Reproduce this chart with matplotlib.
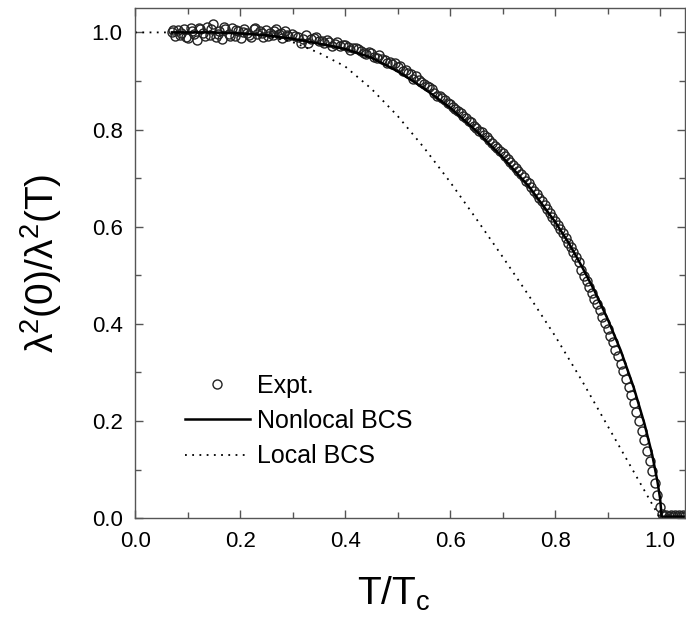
import numpy as np
import matplotlib
matplotlib.use('Agg')
import matplotlib.pyplot as plt
from matplotlib.ticker import MultipleLocator

plt.rcParams['font.family'] = ['Liberation Sans', 'DejaVu Sans']
plt.rcParams['mathtext.default'] = 'regular'

low_t = [0.070, 0.073, 0.076, 0.082, 0.085, 0.088, 0.094, 0.097, 0.100, 0.106,
         0.109, 0.112, 0.118, 0.121, 0.124, 0.130, 0.133, 0.136, 0.142, 0.145,
         0.148, 0.154, 0.157, 0.160, 0.166, 0.169, 0.172, 0.178, 0.181, 0.184,
         0.190, 0.193, 0.196, 0.202, 0.205, 0.208, 0.214, 0.217, 0.220, 0.226,
         0.229, 0.232, 0.238, 0.241, 0.244, 0.250, 0.253, 0.256, 0.262, 0.265,
         0.268, 0.274, 0.277, 0.280, 0.286, 0.289, 0.292, 0.298]
low_y = [1.000, 1.005, 0.992, 1.004, 0.995, 0.998, 1.008, 0.991, 0.988, 1.010,
         1.003, 0.996, 0.985, 1.009, 1.006, 0.999, 0.993, 1.012, 0.994, 1.006,
         1.018, 0.990, 0.997, 1.003, 0.986, 1.012, 1.008, 0.997, 0.992, 1.009,
         0.993, 1.005, 1.002, 0.988, 1.000, 1.006, 0.999, 0.994, 0.991, 1.007,
         1.009, 0.996, 1.003, 0.998, 0.990, 1.004, 0.993, 0.998, 0.994, 1.003,
         1.007, 0.996, 0.999, 0.989, 1.002, 0.995, 0.993, 0.997]

# mid range, just above the nonlocal curve
mid_t = [0.305, 0.310, 0.315, 0.320, 0.325, 0.330, 0.335, 0.340, 0.345, 0.350,
         0.355, 0.360, 0.365, 0.370, 0.375, 0.380, 0.385, 0.390, 0.395, 0.400,
         0.405, 0.410, 0.415, 0.420, 0.425, 0.430, 0.435, 0.440, 0.445, 0.450,
         0.455, 0.460, 0.465, 0.470, 0.475, 0.480, 0.485, 0.490, 0.495, 0.500,
         0.505, 0.510, 0.515, 0.520, 0.525, 0.530, 0.535, 0.540, 0.545, 0.550,
         0.555, 0.560, 0.565, 0.570, 0.575, 0.580, 0.585, 0.590, 0.595, 0.600,
         0.605, 0.610, 0.615, 0.620, 0.625, 0.630, 0.635, 0.640, 0.645, 0.650,
         0.655, 0.660, 0.665, 0.670, 0.675, 0.680, 0.685, 0.690, 0.695, 0.700,
         0.705, 0.710, 0.715, 0.720, 0.725, 0.730, 0.735, 0.740, 0.745, 0.750,
         0.755, 0.760, 0.765, 0.770, 0.775, 0.780, 0.785, 0.790, 0.795, 0.800,
         0.805, 0.810, 0.815, 0.820, 0.825, 0.830, 0.835, 0.840, 0.845]
mid_y = [0.992, 0.990, 0.978, 0.987, 0.995, 0.979, 0.986, 0.988, 0.990, 0.983,
         0.982, 0.978, 0.985, 0.980, 0.972, 0.977, 0.980, 0.971, 0.975, 0.974,
         0.970, 0.964, 0.968, 0.968, 0.966, 0.961, 0.958, 0.955, 0.960, 0.957,
         0.950, 0.947, 0.954, 0.946, 0.944, 0.938, 0.940, 0.934, 0.936, 0.929,
         0.930, 0.920, 0.922, 0.916, 0.914, 0.905, 0.910, 0.902, 0.898, 0.893,
         0.890, 0.887, 0.884, 0.876, 0.870, 0.870, 0.864, 0.860, 0.855, 0.853,
         0.846, 0.843, 0.838, 0.834, 0.828, 0.824, 0.818, 0.815, 0.808, 0.804,
         0.797, 0.794, 0.789, 0.784, 0.779, 0.772, 0.766, 0.762, 0.756, 0.751,
         0.745, 0.739, 0.733, 0.727, 0.720, 0.714, 0.708, 0.702, 0.695, 0.689,
         0.681, 0.674, 0.667, 0.660, 0.652, 0.644, 0.636, 0.628, 0.620, 0.612,
         0.603, 0.595, 0.586, 0.577, 0.567, 0.558, 0.548, 0.538, 0.527]

# near Tc, slightly left of the curve, then the flat tail above Tc
high_t = [0.850, 0.855, 0.860, 0.865, 0.870, 0.875, 0.880, 0.885, 0.890, 0.895,
          0.900, 0.905, 0.910, 0.915, 0.920, 0.925, 0.930, 0.935, 0.940, 0.945,
          0.950, 0.955, 0.960, 0.965, 0.970, 0.975, 0.980, 0.985, 0.990, 0.995,
          1.000, 1.004, 1.008, 1.012, 1.016, 1.020, 1.024, 1.028, 1.032, 1.036,
          1.040, 1.044, 1.048]
high_y = [0.510, 0.498, 0.488, 0.476, 0.464, 0.452, 0.440, 0.428, 0.414, 0.402,
          0.389, 0.375, 0.362, 0.347, 0.333, 0.318, 0.302, 0.286, 0.270, 0.253,
          0.236, 0.218, 0.199, 0.180, 0.160, 0.139, 0.118, 0.096, 0.072, 0.048,
          0.022, 0.008, 0.004, 0.006, 0.005, 0.007, 0.004, 0.006, 0.005, 0.007,
          0.004, 0.006, 0.005]

# Nonlocal BCS curve
nonlocal_t = [0.07, 0.10, 0.15, 0.20, 0.25, 0.30, 0.35, 0.40, 0.45, 0.50,
              0.55, 0.60, 0.65, 0.70, 0.75, 0.80, 0.825, 0.85, 0.875, 0.90,
              0.925, 0.95, 0.97, 0.985, 0.995, 1.000, 1.003, 1.05]
nonlocal_y = [1.000, 1.000, 1.000, 0.998, 0.994, 0.987, 0.977, 0.966, 0.948, 0.920,
              0.885, 0.845, 0.797, 0.743, 0.683, 0.610, 0.568, 0.520, 0.468, 0.410,
              0.345, 0.268, 0.195, 0.130, 0.075, 0.040, 0.003, 0.003]

# Local BCS curve
local_t = [0.0, 0.10, 0.20, 0.25, 0.30, 0.35, 0.40, 0.45, 0.50, 0.55,
           0.60, 0.65, 0.70, 0.75, 0.80, 0.85, 0.90, 0.95, 0.98, 1.00]
local_y = [1.000, 1.000, 0.999, 0.993, 0.980, 0.958, 0.930, 0.884, 0.828, 0.763,
           0.692, 0.616, 0.538, 0.458, 0.375, 0.285, 0.190, 0.095, 0.038, 0.000]

expt_t = low_t + mid_t + high_t
expt_y = low_y + mid_y + high_y

fig = plt.figure(figsize=(6.86, 6.25), dpi=100)
ax = fig.add_axes([0.197, 0.171, 0.802, 0.816])

ax.plot(expt_t, expt_y, 'o', ms=6.5, mfc='none', mec='#222222', mew=1.0, label='Expt.')
ax.plot(nonlocal_t, nonlocal_y, '-', color='black', lw=1.8, label='Nonlocal BCS')
ax.plot(local_t, local_y, color='black', lw=1.3, ls=(0, (1, 3)), label='Local BCS')

ax.set_xlim(0, 1.048)
ax.set_ylim(0, 1.05)
ax.xaxis.set_major_locator(MultipleLocator(0.2))
ax.xaxis.set_minor_locator(MultipleLocator(0.1))
ax.yaxis.set_major_locator(MultipleLocator(0.2))
ax.yaxis.set_minor_locator(MultipleLocator(0.1))
ax.xaxis.set_major_formatter(plt.FormatStrFormatter('%.1f'))
ax.yaxis.set_major_formatter(plt.FormatStrFormatter('%.1f'))
ax.tick_params(which='both', direction='in', top=True, right=True, labelsize=16, color='#555555')
ax.tick_params(which='major', length=6, width=1, pad=9)
ax.tick_params(which='minor', length=4, width=1)
for s in ax.spines.values():
    s.set_color('#555555')
    s.set_linewidth(1.0)

ax.set_xlabel('T/T$_c$', fontsize=28)
ax.set_ylabel(r'$\lambda^2$(0)/$\lambda^2$(T)', fontsize=28)
ax.xaxis.set_label_coords(0.47, -0.11)
ax.yaxis.set_label_coords(-0.13, 0.5)

ax.legend(loc='upper left', bbox_to_anchor=(0.09, 0.283), frameon=False, fontsize=18,
          handlelength=2.6, handletextpad=0.3, labelspacing=0.45,
          borderpad=0, borderaxespad=0)

fig.savefig('out.png', dpi=100)
